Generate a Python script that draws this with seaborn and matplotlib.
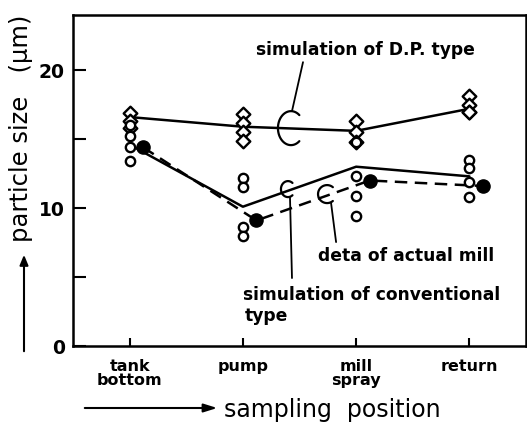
import numpy as np
import pandas as pd
import matplotlib
matplotlib.use("Agg")
import matplotlib.pyplot as plt
from matplotlib.patches import FancyArrowPatch
import seaborn as sns

# ---------------- data ----------------
positions = ["tank\nbottom", "pump", "mill\nspray", "return"]

dp_line = [16.6, 15.9, 15.6, 17.2]          # simulation of D.P. type
conv_line = [14.6, 10.1, 13.0, 12.3]        # simulation of conventional type
actual_mean = [14.4, 9.1, 12.0, 11.6]       # mean of actual mill data

dp_tank = [16.9, 16.3, 15.8]
dp_pump = [16.8, 16.2, 15.5, 14.9]
dp_mill = [16.3, 15.5, 14.8]
dp_return = [18.1, 17.5, 17.0, 17.0]

act_tank = [16.0, 15.2, 14.4, 13.4]
act_pump = [12.2, 11.5, 8.6, 8.0]
act_mill = [14.8, 12.3, 10.9, 9.4]
act_return = [13.5, 12.9, 11.9, 10.8]

y_ticks = [0, 10, 20]
# --------------------------------------

sns.set_theme(style="white")
plt.rcParams["font.family"] = ["DejaVu Sans"]
for k in ["text.color", "axes.labelcolor", "xtick.color", "ytick.color",
          "axes.edgecolor"]:
    plt.rcParams[k] = "black"

W, H = 527, 436
fig = plt.figure(figsize=(W / 100, H / 100), dpi=100)
ax = fig.add_axes([73 / W, 1 - 346 / H, (526 - 73) / W, (346 - 15) / H])

idx = np.arange(len(positions))
dp_sets = [dp_tank, dp_pump, dp_mill, dp_return]
act_sets = [act_tank, act_pump, act_mill, act_return]

df_lines = pd.DataFrame({"x": idx, "dp": dp_line, "conv": conv_line,
                         "act": actual_mean})
df_dp = pd.DataFrame([(i, v) for i, s in enumerate(dp_sets) for v in s],
                     columns=["x", "y"])
df_act = pd.DataFrame([(i, v) for i, s in enumerate(act_sets) for v in s],
                      columns=["x", "y"])
mean_offset = 0.12
df_mean = pd.DataFrame({"x": idx + mean_offset, "y": actual_mean})

sns.lineplot(data=df_lines, x="x", y="dp", ax=ax, color="black", lw=1.8,
             zorder=2)
sns.lineplot(data=df_lines, x="x", y="conv", ax=ax, color="black", lw=1.8,
             zorder=2)
sns.lineplot(data=df_mean, x="x", y="y", ax=ax, color="black", lw=1.8,
             linestyle=(0, (5, 3)), zorder=2)

sns.scatterplot(data=df_dp, x="x", y="y", ax=ax, marker="D", s=48,
                facecolor="white", edgecolor="black", linewidth=1.7, zorder=3)
sns.scatterplot(data=df_act, x="x", y="y", ax=ax, marker="o", s=45,
                facecolor="white", edgecolor="black", linewidth=1.7, zorder=4)
sns.scatterplot(data=df_mean, x="x", y="y", ax=ax, marker="o", s=90,
                color="black", edgecolor="black", linewidth=1, zorder=5)

ax.set_xlim(-0.5, 3.5)
ax.set_ylim(0, 24)
ax.set_xticks(idx)
ax.set_xticklabels(positions, fontsize=11.5, fontweight="bold",
                   linespacing=0.95)
ax.set_yticks(y_ticks)
ax.set_yticklabels([str(t) for t in y_ticks], fontsize=13.5,
                   fontweight="bold")
ax.set_yticks([5, 15], minor=True)
ax.tick_params(axis="y", which="both", direction="in", length=9, width=1.5,
               left=True, pad=6)
ax.tick_params(axis="x", direction="in", length=6, width=1.5, bottom=True,
               pad=9)
ax.set_xlabel("")
ax.set_ylabel("")
for sp in ax.spines.values():
    sp.set_visible(True)
    sp.set_linewidth(1.8)
    sp.set_color("black")

# pixel -> data helpers for annotations
def px2d(px, py):
    return (px - 130) / 113.0, (346 - py) / 13.8

def c_mark(cx, cy, rx, ry):
    x, y = px2d(cx, cy)
    t = np.radians(np.linspace(50, 310, 60))
    ax.plot(x + rx / 113.0 * np.cos(t), y + ry / 13.8 * np.sin(t),
            color="black", lw=1.6, zorder=6, solid_capstyle="round")

def leader(p1, p2):
    a = px2d(*p1)
    b = px2d(*p2)
    ax.plot([a[0], b[0]], [a[1], b[1]], color="black", lw=1.3, zorder=6)

c_mark(291, 128, 13, 17)
leader((303, 62), (292, 111))
c_mark(288, 189, 7, 8)
leader((290, 197), (292, 278))
c_mark(327, 194, 9, 9)
leader((331, 203), (336, 242))

fs_ann = 12.3
fig.text(256 / W, 1 - 50 / H, "simulation of D.P. type", fontsize=fs_ann,
         fontweight="bold", va="center", ha="left")
fig.text(318 / W, 1 - 256 / H, "deta of actual mill", fontsize=fs_ann,
         fontweight="bold", va="center", ha="left")
fig.text(243 / W, 1 - 295 / H, "simulation of conventional", fontsize=fs_ann,
         fontweight="bold", va="center", ha="left")
fig.text(245 / W, 1 - 316 / H, "type", fontsize=fs_ann,
         fontweight="bold", va="center", ha="left")

# axis titles with arrows
fig.text(21 / W, 1 - 128 / H, "particle size   (\u03bcm)", rotation=90,
         fontsize=17.5, va="center", ha="center")
fig.add_artist(FancyArrowPatch(
    (24 / W, 1 - 354 / H), (24 / W, 1 - 252 / H), transform=fig.transFigure,
    arrowstyle="-|>,head_length=6,head_width=2.5", lw=1.5, color="black"))
fig.text(224 / W, 1 - 410 / H, "sampling  position", fontsize=17,
         va="center", ha="left")
fig.add_artist(FancyArrowPatch(
    (82 / W, 1 - 408 / H), (220 / W, 1 - 408 / H), transform=fig.transFigure,
    arrowstyle="-|>,head_length=8,head_width=2.5", lw=1.5, color="black"))

fig.savefig("out.png", dpi=100, facecolor="white")
